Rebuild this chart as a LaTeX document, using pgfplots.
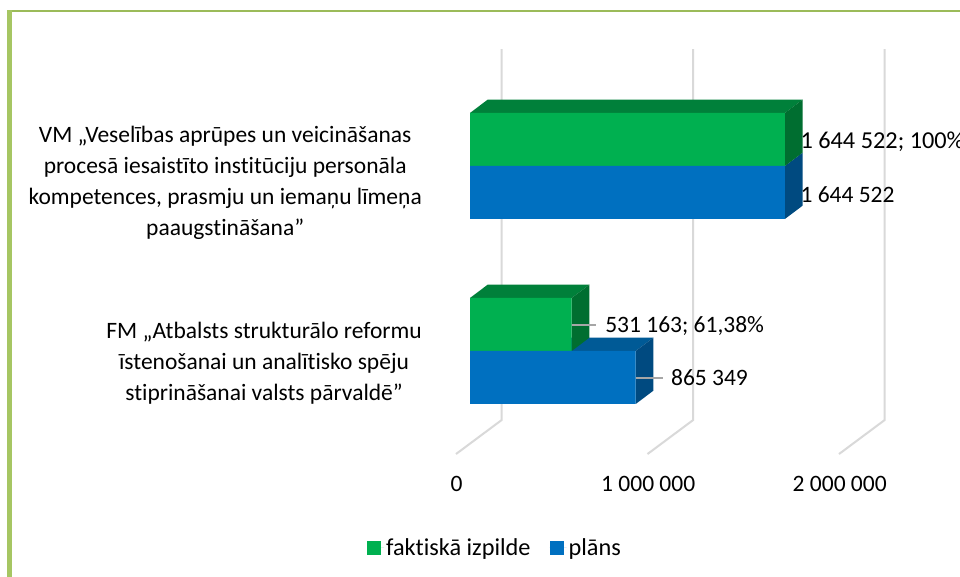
\documentclass[border=0pt]{standalone}
\usepackage{fontspec}
\setmainfont[Ligatures=NoCommon]{Carlito}
\usepackage{pgfplots}
\pgfplotsset{compat=1.18}
\definecolor{cGreen}{HTML}{00B050}
\definecolor{cGreenTop}{HTML}{00803A}
\definecolor{cGreenSide}{HTML}{006E30}
\definecolor{cBlue}{HTML}{0070C0}
\definecolor{cBlueTop}{HTML}{005A96}
\definecolor{cBlueSide}{HTML}{004A80}
\definecolor{cFrame}{HTML}{9BBB59}
\definecolor{cFrameLeft}{HTML}{A6C663}
\definecolor{cGrid}{HTML}{D9D9D9}
\definecolor{cLeader}{HTML}{A6A6A6}
\newcommand{\chartfont}{\fontsize{23.5}{31}\selectfont}
\newcommand{\legendfont}{\fontsize{24.3}{31}\selectfont}
\begin{document}
\begin{tikzpicture}[x=1pt,y=1pt,font=\chartfont]
% 1pt = one pixel of the reference, picture origin bottom left
\clip (0,0) rectangle (960,577);
\fill[white] (0,0) rectangle (960,577);
\fill[cFrame] (7,565) rectangle (960,567);
\fill[cFrameLeft] (7.3,0) rectangle (12,567);

\begin{axis}[
  at={(422pt,115pt)},
  scale only axis,
  width=538pt, height=432pt,
  xmin=-250653, xmax=2558747,
  ymin=-0.6, ymax=1.735,
  clip=false,
  axis line style={draw=none},
  major tick length=0pt,
  scaled x ticks=false,
  xtick={0,1000000,2000000},
  xticklabels={0,1 000 000,2 000 000},
  xticklabel style={xshift=-13.3pt, yshift=-11pt, font=\chartfont},
  ytick={-0.0595,0.9189},
  yticklabels={
    {FM „Atbalsts strukturālo reformu\\īstenošanai un analītisko spēju\\stiprināšanai valsts pārvaldē”},
    {VM „Veselības aprūpes un veicināšanas\\procesā iesaistīto institūciju personāla\\kompetences, prasmju un iemaņu līmeņa\\paaugstināšana”}
  },
  yticklabel style={align=center, inner sep=0pt, yshift=-1.5pt, font=\chartfont},
  legend columns=2,
  legend style={at={(0.1357,-0.199)}, anchor=center, draw=none, fill=none,
    font=\legendfont, /tikz/every even column/.append style={column sep=17pt}},
  legend image code/.code={\fill[#1] (0pt,-7pt) rectangle (14pt,7pt);\path (0pt,0pt) -- (17pt,0pt);},
]
% gridlines, back wall then floor
\addplot[cGrid, line width=2pt, forget plot] coordinates {(165500,1.632) (165500,-0.373) (-73100,-0.557)};
\addplot[cGrid, line width=2pt, forget plot] coordinates {(1165500,1.632) (1165500,-0.373) (926900,-0.557)};
\addplot[cGrid, line width=2pt, forget plot] coordinates {(2165500,1.632) (2165500,-0.373) (1926900,-0.557)};

% 3D faces: plan
\addplot[fill=cBlueTop, draw=none, forget plot] coordinates {(0,0) (865349,0) (957649,0.072) (92300,0.072)};
\addplot[fill=cBlueSide, draw=none, forget plot] coordinates {(865349,0) (957649,0.072) (957649,-0.2145) (865349,-0.2865)};
\addplot[fill=cBlueSide, draw=none, forget plot] coordinates {(1644522,1) (1736822,1.072) (1736822,0.7855) (1644522,0.7135)};
% 3D faces: actual
\addplot[fill=cGreenTop, draw=none, forget plot] coordinates {(0,0.2865) (531163,0.2865) (623463,0.3585) (92300,0.3585)};
\addplot[fill=cGreenSide, draw=none, forget plot] coordinates {(531163,0.2865) (623463,0.3585) (623463,0.072) (531163,0)};
\addplot[fill=cGreenTop, draw=none, forget plot] coordinates {(0,1.2865) (1644522,1.2865) (1736822,1.3585) (92300,1.3585)};
\addplot[fill=cGreenSide, draw=none, forget plot] coordinates {(1644522,1.2865) (1736822,1.3585) (1736822,1.072) (1644522,1)};

% front faces
\addplot[xbar, bar width=53pt, bar shift=26.5pt, fill=cGreen, draw=none] coordinates {(531163,0) (1644522,1)};
\addlegendentry{faktiskā izpilde}
\addplot[xbar, bar width=53pt, bar shift=-26.5pt, fill=cBlue, draw=none] coordinates {(865349,0) (1644522,1)};
\addlegendentry{plāns}

% leader lines
\addplot[cLeader, line width=1.5pt, forget plot] coordinates {(531163,0.1405) (656500,0.1405)};
\addplot[cLeader, line width=1.5pt, forget plot] coordinates {(865349,-0.1459) (1007000,-0.1459)};

% data labels
\node[anchor=west, inner sep=0pt, font=\legendfont] at (axis cs:1725000,1.1297) {1 644 522; 100\%};
\node[anchor=west, inner sep=0pt] at (axis cs:1725000,0.8432) {1 644 522};
\node[anchor=west, inner sep=0pt] at (axis cs:705500,0.1351) {531 163; 61,38\%};
\node[anchor=west, inner sep=0pt] at (axis cs:1049000,-0.1459) {865 349};
\end{axis}
\end{tikzpicture}
\end{document}
